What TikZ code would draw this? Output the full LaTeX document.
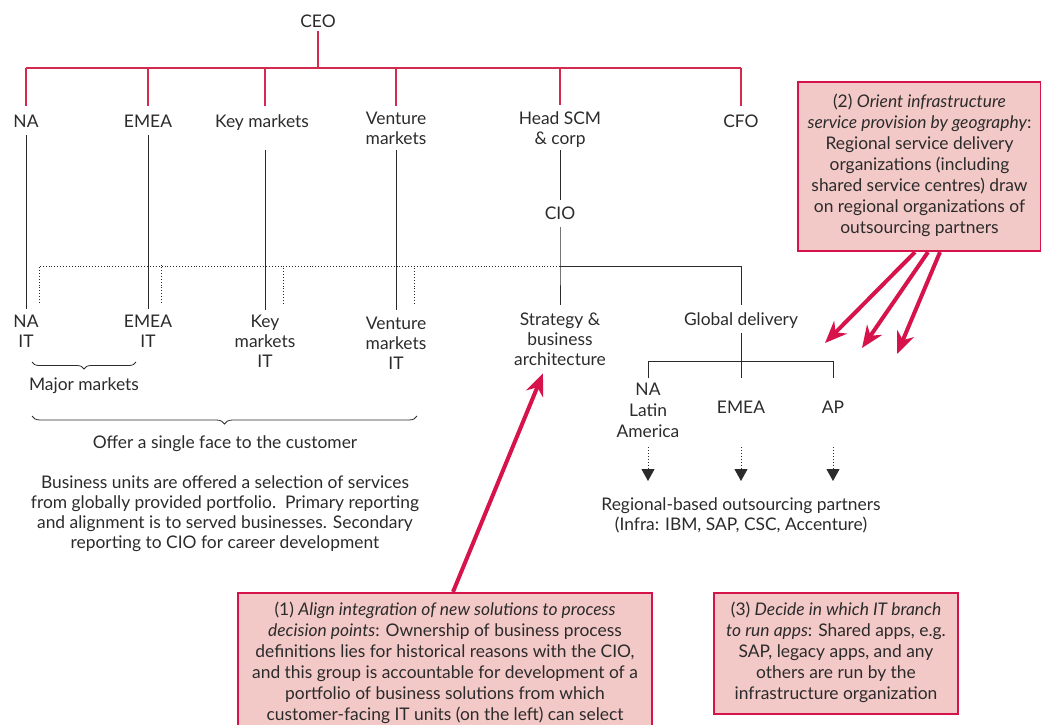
\documentclass[tikz,border=0pt]{standalone}
\usepackage{fontspec}
\setmainfont{Lato}
\usetikzlibrary{arrows.meta,decorations.pathreplacing,calc}

\definecolor{ink}{HTML}{2B2B2B}
\definecolor{treered}{HTML}{D42A50}
\definecolor{accent}{HTML}{D6134A}
\definecolor{notefill}{HTML}{F3C9C8}

\begin{document}
\begin{tikzpicture}[x=1pt,y=-1pt,
  every node/.style={font=\fontsize{17.4}{20}\selectfont, text=ink, inner sep=0pt, align=center},
  lbl/.style={anchor=base},
  notetext/.style={font=\fontsize{17.4}{21}\selectfont},
  redline/.style={draw=treered, line width=1.4pt},
  orgline/.style={draw=ink, line width=0.9pt},
  dotline/.style={draw=ink, line width=0.9pt, dotted},
  dotarrow/.style={draw=ink, line width=0.9pt, dotted, -{Triangle[length=12pt,width=13pt]}},
  callout/.style={draw=accent, line width=4pt, -{Stealth[length=22pt,width=18pt,inset=7pt]}},
  notebox/.style={draw=accent, fill=notefill, line width=2.2pt, rectangle},
  bracedraw/.style={draw=ink, line width=0.8pt, decorate, decoration={brace, mirror}}
]
\useasboundingbox (0,0) rectangle (1041,725);

% ---------- top level (multi-line labels sit on their last baseline) ----------
\node[lbl] (ceo) at (318,28) {CEO};
\coordinate (bus) at (318,68);

\node[lbl] (na)      at (26,127)  {NA};
\node[lbl] (emea)    at (148,127) {EMEA};
\node[lbl] (key)     at (262,127) {Key markets};
\node[lbl] (venture) at (396,144) {Venture\\markets};
\node[lbl] (head)    at (560,144) {Head SCM\\\& corp};
\node[lbl] (cfo)     at (741,127) {CFO};

\draw[redline] ([yshift=-3pt]ceo.south) -- (bus);
\draw[redline] (bus -| na) -- (bus -| cfo);
\draw[redline] (bus -| na)   -- ([yshift=8.5pt]na.north);
\draw[redline] (bus -| emea) -- ([yshift=8.5pt]emea.north);
\draw[redline] (265,68)      -- ([xshift=3pt,yshift=8pt]key.north);
\draw[redline] (bus -| venture) -- ([yshift=5.5pt]venture.north);
\draw[redline] (bus -| head) -- ([yshift=5.5pt]head.north);
\draw[redline] (bus -| cfo)  -- ([yshift=8.5pt]cfo.north);

% ---------- CIO ----------
\node[lbl] (cio) at (560,219) {CIO};
\coordinate (hub) at (560,266);
\draw[orgline] ([yshift=-2.7pt]head.south) -- ([yshift=6.5pt]cio.north);

% ---------- IT units ----------
\node[lbl] (nait)      at (26,347)  {NA\\IT};
\node[lbl] (emeait)    at (148,347) {EMEA\\IT};
\node[lbl] (keyit)     at (265,367) {Key\\markets\\IT};
\node[lbl] (ventureit) at (396,369) {Venture\\markets\\IT};
\node[lbl] (strategy)  at (560,365) {Strategy \&\\business\\architecture};
\node[lbl] (global)    at (741,325) {Global delivery};

\draw[orgline] ([yshift=-8pt]na.south)        -- ([yshift=5.5pt]nait.north);
\draw[orgline] ([yshift=-8pt]emea.south)      -- ([yshift=5.5pt]emeait.north);
\draw[orgline] ([xshift=3pt,yshift=-19.7pt]key.south) -- ([yshift=4.5pt]keyit.north);
\draw[orgline] ([yshift=-6pt]venture.south)   -- ([yshift=6.5pt]ventureit.north);

% CIO reports
\draw[orgline] ([yshift=-8pt]cio.south) -- (hub) -- ([yshift=7.5pt]strategy.north);
\draw[orgline] (hub) -- (hub -| global) -- ([yshift=7pt]global.north);

% secondary (dotted) reporting to the CIO
\draw[dotline] ([xshift=13pt,yshift=11.5pt]nait.north) |- (hub);
\draw[dotline] ([xshift=13pt,yshift=11.5pt]emeait.north) -- ++(0,-38);
\draw[dotline] ([xshift=18pt,yshift=10.5pt]keyit.north) -- ++(0,-38);
\draw[dotline] ([xshift=18pt,yshift=12.5pt]ventureit.north) -- ++(0,-38);

% ---------- regional delivery ----------
\node[lbl, font=\fontsize{17.4}{21}\selectfont] (nala)  at (648,437) {NA\\Latin\\America};
\node[lbl] (emeag) at (741,413) {EMEA};
\node[lbl] (ap)    at (833,413) {AP};
\coordinate (rbus) at (741,361);

\draw[orgline] ([yshift=-4.7pt]global.south) -- (rbus);
\draw[orgline] ([yshift=4.5pt]nala.north) -- (nala |- rbus) -- (ap |- rbus) -- ([yshift=22.5pt]ap.north);
\draw[orgline] (rbus) -- ([yshift=22.5pt]emeag.north);

\node[lbl] (partners) at (741,530) {Regional-based outsourcing partners\\(Infra: IBM, SAP, CSC, Accenture)};
\coordinate (tip1) at (648,481);
\coordinate (tip2) at (741,481);
\coordinate (tip3) at (833,481);
\draw[dotarrow] ([yshift=-10pt]nala.south)  -- (tip1);
\draw[dotarrow] ([yshift=-34pt]emeag.south) -- (tip2);
\draw[dotarrow] ([yshift=-34pt]ap.south)    -- (tip3);

% ---------- groupings on the left ----------
\draw[bracedraw, decoration={amplitude=7pt}] (32,362) -- (136,362);
\node[lbl] (major) at (84,390) {Major markets};
\draw[bracedraw, decoration={amplitude=8pt}] (32,416) -- (417,416);
\node[lbl] (single) at (225,448) {Offer a single face to the customer};
\node[lbl] (units) at (225,548) {Business units are offered a selection of services\\from globally provided portfolio.\ \ Primary reporting\\and alignment is to served businesses. Secondary\\reporting to CIO for career development};

% ---------- notes ----------
\node[notebox, minimum width=243pt, minimum height=169pt] (note2) at (919.5,166.5) {};
\node[notetext, lbl] at (919.5,233) {(2) \textit{Orient infrastructure}\\\textit{service provision by geography}:\\Regional service delivery\\organizations (including\\shared service centres) draw\\on regional organizations of\\outsourcing partners};

\node[notebox, minimum width=414pt, minimum height=142pt] (note1) at (445,664) {};
\node[notetext, lbl] at (445,720) {(1) \textit{Align integration of new solutions to process}\\\textit{decision points}: Ownership of business process\\definitions lies for historical reasons with the CIO,\\and this group is accountable for development of a\\portfolio of business solutions from which\\customer-facing IT units (on the left) can select};

\node[notebox, minimum width=244pt, minimum height=121pt] (note3) at (836,653.5) {};
\node[notetext, lbl] at (836,699) {(3) \textit{Decide in which IT branch}\\\textit{to run apps}: Shared apps, e.g.\\SAP, legacy apps, and any\\others are run by the\\infrastructure organization};

% ---------- call-out arrows ----------
\coordinate (c2a) at (825,343);
\coordinate (c2b) at (862,348);
\coordinate (c2c) at (897,354);
\draw[callout] ([xshift=-4.5pt]note2.south) -- (c2a);
\draw[callout] ([xshift=8.5pt]note2.south)  -- (c2b);
\draw[callout] ([xshift=20.5pt]note2.south) -- (c2c);
\draw[callout] ([xshift=8pt]note1.north) -- ([xshift=-17pt,yshift=-8pt]strategy.south);
\end{tikzpicture}
\end{document}
